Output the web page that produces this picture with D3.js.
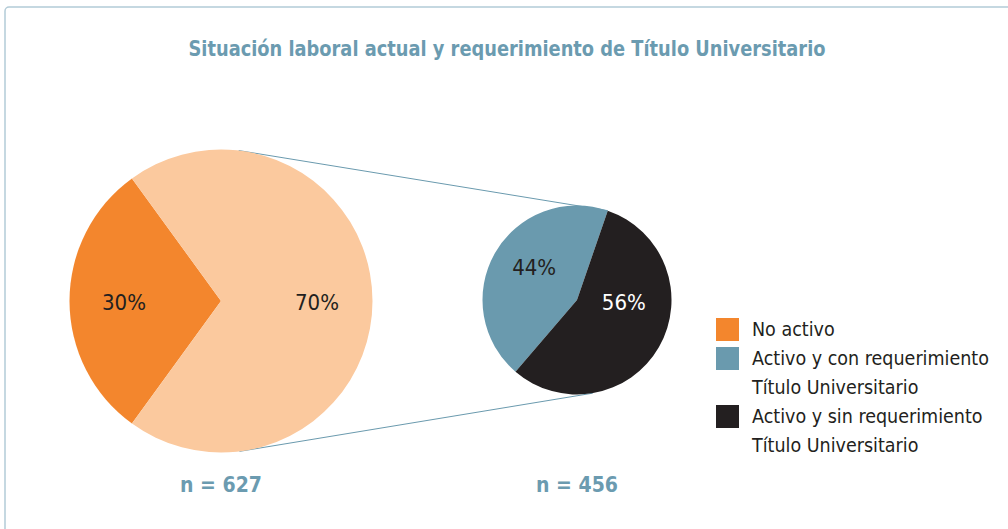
<!DOCTYPE html>
<html>
<head>
<meta charset="utf-8">
<script src="https://cdn.jsdelivr.net/npm/d3@7"></script>
<style>
  html, body { margin: 0; padding: 0; background: #fff; }
  svg { display: block; }
</style>
</head>
<body>
<div id="chart"></div>
<script>
const width = 1008;
const height = 529;

// Data
const chartTitle = "Situación laboral actual y requerimiento de Título Universitario";
const outerCategories = ["No activo", "Activo"];
const outerValues = [30, 70];
const innerCategories = ["Activo y con requerimiento Título Universitario", "Activo y sin requerimiento Título Universitario"];
const innerValues = [44, 56];
const sampleSizes = [627, 456];
const legendLabels = [["No activo"], ["Activo y con requerimiento", "Título Universitario"], ["Activo y sin requerimiento", "Título Universitario"]];

// Colours
const outerColors = ["#f3862d", "#fbc99e"];
const innerColors = ["#6a9aae", "#231f20"];
const legendColors = ["#f3862d", "#6a9aae", "#231f20"];
const accent = "#6b9bb0";
const font = "'Liberation Sans Narrow', 'DejaVu Sans Condensed', 'Noto Sans', sans-serif";

const deg = a => a * Math.PI / 180;

const svg = d3.select("#chart")
    .append("svg")
    .attr("width", width)
    .attr("height", height);

// frame (only top and left edges visible)
svg.append("rect")
    .attr("x", 5).attr("y", 7)
    .attr("width", width + 20).attr("height", height + 20)
    .attr("rx", 4)
    .attr("fill", "none")
    .attr("stroke", "#b3cbd7")
    .attr("stroke-width", 1.5);

svg.append("text")
    .attr("x", 507)
    .attr("y", 56)
    .attr("text-anchor", "middle")
    .attr("font-family", font)
    .attr("font-weight", "bold")
    .attr("font-size", 21.5)
    .attr("fill", accent)
    .attr("textLength", 637)
    .attr("lengthAdjust", "spacingAndGlyphs")
    .text(chartTitle);

// two pies
const big = {cx: 221, cy: 301, r: 151.5, labelR: 96};
const small = {cx: 577, cy: 300, r: 94.5, labelR: 54};

const bigPie = d3.pie().sort(null)
    .startAngle(deg(216)).endAngle(deg(216 + 360));
const smallPie = d3.pie().sort(null)
    .startAngle(deg(220.6)).endAngle(deg(220.6 + 360));

// connector lines between the pies
const polar = (p, a) => [p.cx + p.r * Math.sin(deg(a)), p.cy - p.r * Math.cos(deg(a))];
const connectors = [[6.7, 19], [173, 170.4]];
connectors.forEach(([a1, a2]) => {
    const p1 = polar(big, a1), p2 = polar(small, a2);
    svg.append("line")
        .attr("x1", p1[0]).attr("y1", p1[1])
        .attr("x2", p2[0]).attr("y2", p2[1])
        .attr("stroke", "#6a9aae")
        .attr("stroke-width", 1);
});

function drawPie(p, pie, values, colors, textColors, nudges) {
    const g = svg.append("g").attr("transform", `translate(${p.cx},${p.cy})`);
    const arc = d3.arc().innerRadius(0).outerRadius(p.r);
    const labelArc = d3.arc().innerRadius(p.labelR).outerRadius(p.labelR);
    const arcs = pie(values);

    g.selectAll("path")
        .data(arcs)
        .enter().append("path")
        .attr("d", arc)
        .attr("fill", (d, i) => colors[i]);

    g.selectAll("text")
        .data(arcs)
        .enter().append("text")
        .attr("x", (d, i) => labelArc.centroid(d)[0] + nudges[i][0])
        .attr("y", (d, i) => labelArc.centroid(d)[1] + nudges[i][1] + 8)
        .attr("text-anchor", "middle")
        .attr("font-family", font)
        .attr("font-size", 22)
        .attr("fill", (d, i) => textColors[i])
        .text(d => d.value + "%");
}

drawPie(big, bigPie, outerValues, outerColors, ["#231f20", "#231f20"], [[-1, 1], [0, 1]]);
drawPie(small, smallPie, innerValues, innerColors, ["#231f20", "#ffffff"], [[4, -6], [0, -25]]);

// sample sizes under each pie
svg.selectAll("text.n")
    .data(sampleSizes)
    .enter().append("text")
    .attr("class", "n")
    .attr("x", (d, i) => [big, small][i].cx)
    .attr("y", 492)
    .attr("text-anchor", "middle")
    .attr("font-family", font)
    .attr("font-weight", "bold")
    .attr("font-size", 21)
    .attr("fill", accent)
    .text(d => "n = " + d);

// legend
const legend = svg.append("g").attr("transform", "translate(716,0)");
let lineY = 336;
legendLabels.forEach((lines, i) => {
    legend.append("rect")
        .attr("x", 0).attr("y", lineY - 18)
        .attr("width", 23).attr("height", 23)
        .attr("fill", legendColors[i]);
    lines.forEach(t => {
        legend.append("text")
            .attr("x", 36)
            .attr("y", lineY)
            .attr("font-family", font)
            .attr("font-size", 19.5)
            .attr("fill", "#231f20")
            .text(t);
        lineY += 29;
    });
});
</script>
</body>
</html>
